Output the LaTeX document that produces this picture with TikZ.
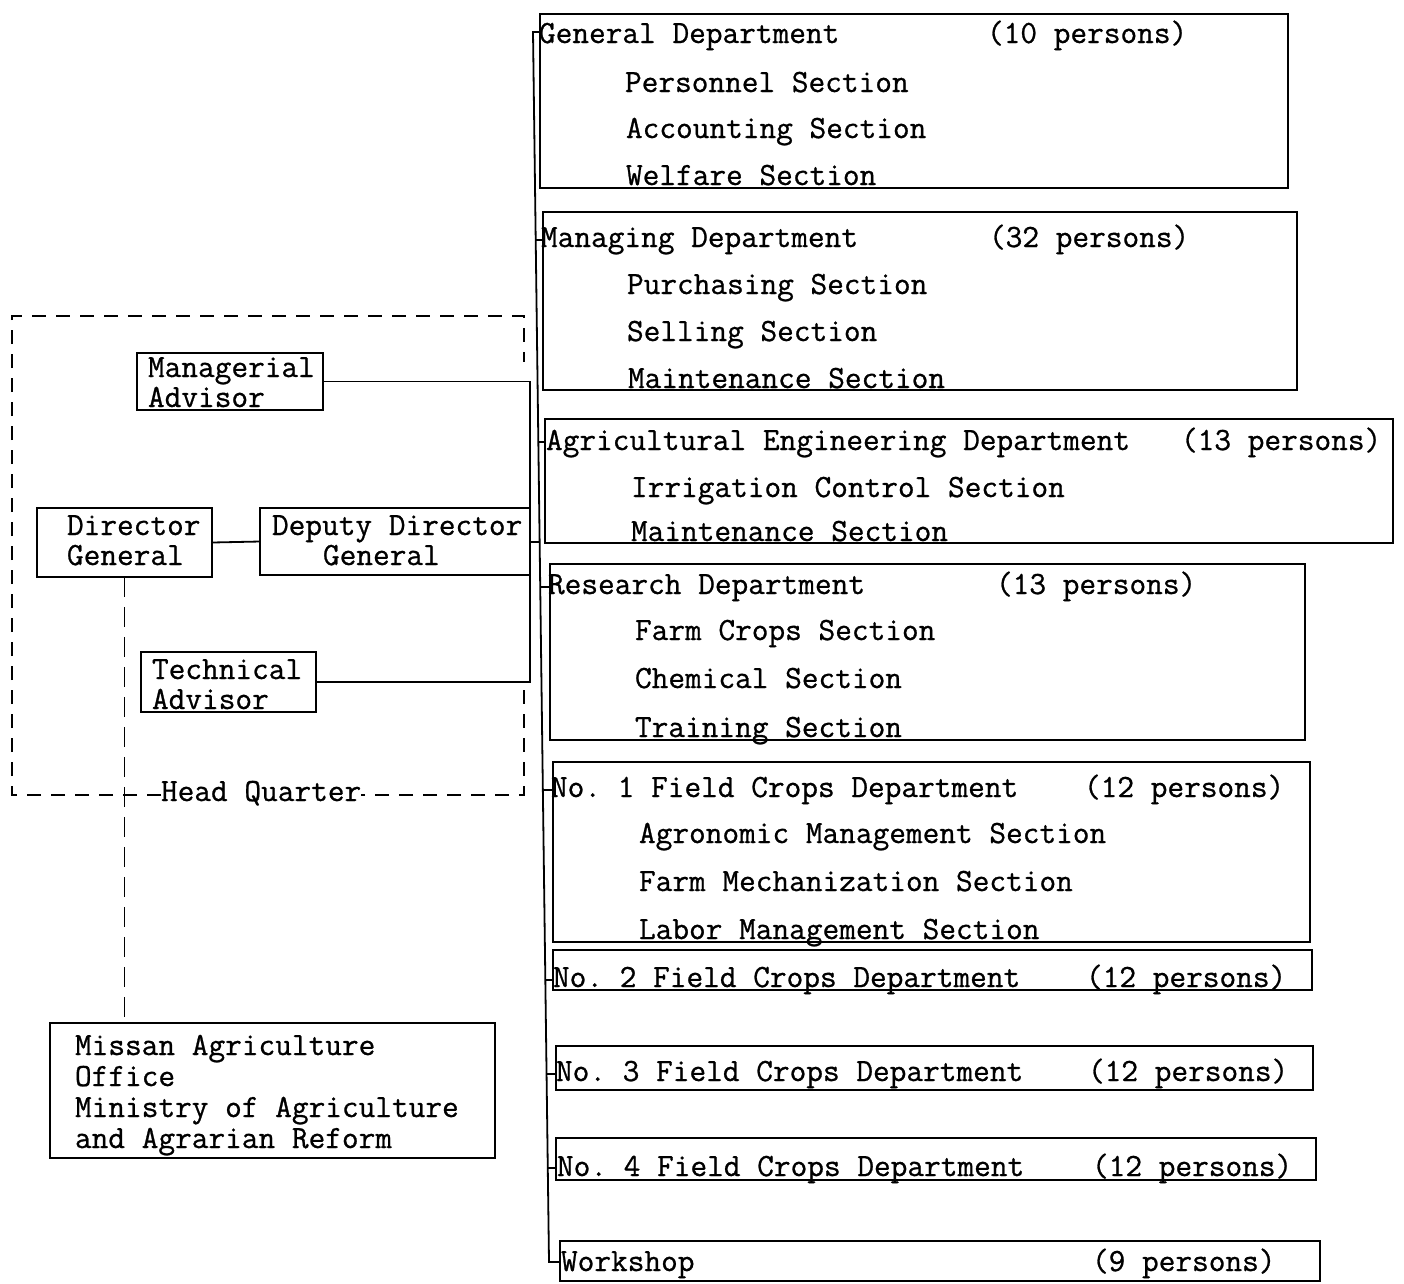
\documentclass[tikz,border=0pt]{standalone}
\usepackage{fontspec}
\newfontfamily\twfam{Latin Modern Mono}[FakeBold=0.8]
\newcommand\twfont{\twfam\fontsize{32.4}{30}\selectfont\frenchspacing}
\begin{document}
\begin{tikzpicture}[x=1pt,y=-1pt,
  every node/.style={inner sep=0pt, outer sep=0pt},
  txt/.style={anchor=base west, font=\twfont},
  two/.style={anchor=base west, font=\twfont, align=left},
  box/.style={draw, line width=1.8pt, anchor=north west},
  conn/.style={line width=1.8pt},
  hq/.style={line width=1.6pt, dash pattern=on 14pt off 10pt},
  link/.style={line width=1.8pt, dash pattern=on 20pt off 10pt},
]
\useasboundingbox (0,0) rectangle (1404,1283);

% ---------- department boxes ----------
\node[box, minimum width=748, minimum height=174] (gen) at (540,14) {};
\node[box, minimum width=754, minimum height=178] (mgt) at (543,212) {};
\node[box, minimum width=848, minimum height=124] (age) at (545,419) {};
\node[box, minimum width=755, minimum height=176] (res) at (550,564) {};
\node[box, minimum width=757, minimum height=180] (fc1) at (553,762) {};
\node[box, minimum width=759, minimum height=40]  (fc2) at (553,950) {};
\node[box, minimum width=757, minimum height=44]  (fc3) at (556,1046) {};
\node[box, minimum width=760, minimum height=42]  (fc4) at (556,1138) {};
\node[box, minimum width=760, minimum height=40]  (ws)  at (560,1241) {};

% General Department
\node[txt] (genh) at (539,43) {General Department};
\node[txt] (genp) at (987,43) {(10 persons)};
\node[txt] (gens1) at (625,92) {Personnel Section};
\node[txt] (gens2) at (626,138) {Accounting Section};
\node[txt] (gens3) at (626,185) {Welfare Section};
% Managing Department
\node[txt] (mgth) at (541,247) {Managing Department};
\node[txt] (mgtp) at (989,247) {(32 persons)};
\node[txt] (mgts1) at (627,294) {Purchasing Section};
\node[txt] (mgts2) at (627,341) {Selling Section};
\node[txt] (mgts3) at (628,388) {Maintenance Section};
% Agricultural Engineering Department
\node[txt] (ageh) at (546,450) {Agricultural Engineering Department};
\node[txt] (agep) at (1181,450) {(13 persons)};
\node[txt] (ages1) at (631,497) {Irrigation Control Section};
\node[txt] (ages2) at (631,541) {Maintenance Section};
% Research Department
\node[txt] (resh) at (548,594) {Research Department};
\node[txt] (resp) at (996,594) {(13 persons)};
\node[txt] (ress1) at (635,640) {Farm Crops Section};
\node[txt] (ress2) at (635,688) {Chemical Section};
\node[txt] (ress3) at (635,737) {Training Section};
% No. 1
\node[txt] (fc1h) at (551,797) {No. 1 Field Crops Department};
\node[txt] (fc1p) at (1084,797) {(12 persons)};
\node[txt] (fc1s1) at (639,843) {Agronomic Management Section};
\node[txt] (fc1s2) at (639,891) {Farm Mechanization Section};
\node[txt] (fc1s3) at (639,939) {Labor Management Section};
% No. 2 - 4, Workshop
\node[txt] (fc2h) at (553,987) {No. 2 Field Crops Department};
\node[txt] (fc2p) at (1086,987) {(12 persons)};
\node[txt] (fc3h) at (556,1081) {No. 3 Field Crops Department};
\node[txt] (fc3p) at (1088,1081) {(12 persons)};
\node[txt] (fc4h) at (557,1176) {No. 4 Field Crops Department};
\node[txt] (fc4p) at (1092,1176) {(12 persons)};
\node[txt] (wsh) at (561,1271) {Workshop};
\node[txt] (wsp) at (1092,1271) {(9 persons)};

% ---------- head quarter ----------
\node[box, minimum width=186, minimum height=57] (ma) at (137,353) {};
\node[two] (mat) at (148,407) {Managerial\\Advisor};
\node[box, minimum width=175, minimum height=69] (dg) at (37,508) {};
\node[two] (dgt) at (67,565) {Director\\General};
\node[box, minimum width=270, minimum height=67] (ddg) at (260,508) {};
\node[two] (ddgt) at (272,565) {Deputy Director\\\hspace*{51pt}General};
\node[box, minimum width=175, minimum height=60] (ta) at (141,652) {};
\node[two] (tat) at (152,709) {Technical\\Advisor};
\node[box, minimum width=445, minimum height=135] (mis) at (50,1023) {};
\node[two] (mist) at (75,1148) {Missan Agriculture\\[1pt]Office\\[1pt]Ministry of Agriculture\\[1pt]and Agrarian Reform};
\node[txt] (hqt) at (161,801) {Head Quarter};

% head quarter frame
\draw[hq] (hqt.west |- 0,795) -- (12,795) -- (12,316) -- (524,316) -- (524,362);
\draw[hq] (524,690) -- (524,795) -- (hqt.east |- 0,795);

% connectors inside head quarter
\draw[conn] (dg.east) -- (ddg.west);
\draw[conn] (ma.east) -- (ma.east -| ddg.east) -- (ddg.north east);
\draw[conn] (ta.east) -- (ta.east -| ddg.east) -- (ddg.south east);
\draw[link] (dg.south) -- (dg.south |- mis.north);

% ---------- bus ----------
\coordinate (bustop) at (533,32);
\coordinate (busbot) at (549,1262);
\coordinate (bddg) at (539.6,542);
\coordinate (b2) at (535.7,240);
\coordinate (b3) at (538.3,442);
\coordinate (b4) at (540.2,587);
\coordinate (b5) at (542.9,790);
\coordinate (b6) at (545.3,980);
\coordinate (b7) at (546.6,1074);
\coordinate (b8) at (547.8,1168);
\draw[conn] (gen.west |- bustop) -- (bustop) -- (busbot) -- (busbot -| ws.west);
\draw[conn] (ddg.east |- bddg) -- (bddg);
\draw[conn] (b2) -- (b2 -| mgt.west);
\draw[conn] (b3) -- (b3 -| age.west);
\draw[conn] (b4) -- (b4 -| res.west);
\draw[conn] (b5) -- (b5 -| fc1.west);
\draw[conn] (b6) -- (b6 -| fc2.west);
\draw[conn] (b7) -- (b7 -| fc3.west);
\draw[conn] (b8) -- (b8 -| fc4.west);
\end{tikzpicture}
\end{document}
